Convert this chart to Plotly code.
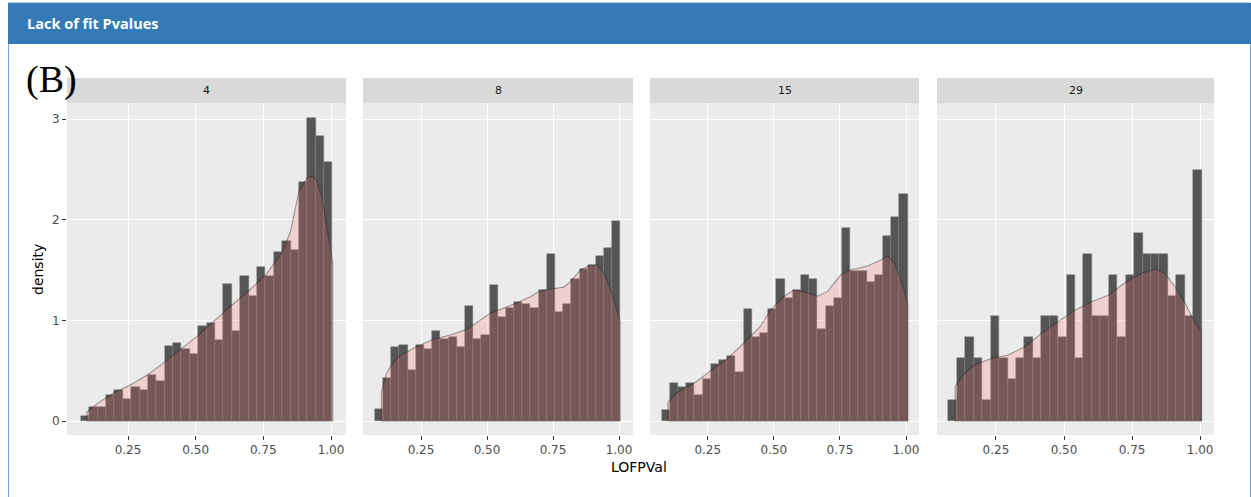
import plotly.graph_objects as go

W, H = 1251, 497

# ---------------- data ----------------
panel_labels = ["4", "8", "15", "29"]
x_tick_vals = [0.25, 0.50, 0.75, 1.00]
x_tick_text = ["0.25", "0.50", "0.75", "1.00"]
y_tick_vals = [0, 1, 2, 3]
y_tick_text = ["0", "1", "2", "3"]

bin_start = 0.0755
bin_width = 0.031

hist_4 = [0.053, 0.136, 0.136, 0.255, 0.311, 0.222, 0.341, 0.311, 0.454, 0.397,
          0.748, 0.775, 0.719, 0.662, 0.947, 0.977, 0.805, 1.358, 0.891, 1.440,
          1.238, 1.530, 1.440, 1.675, 1.790, 1.700, 2.370, 3.007, 2.834, 2.576]
hist_8 = [0.116, 0.424, 0.732, 0.752, 0.507, 0.752, 0.712, 0.897, 0.818, 0.838,
          0.732, 1.142, 0.818, 0.854, 1.348, 1.036, 1.126, 1.182, 1.162, 1.119,
          1.305, 1.656, 1.083, 1.162, 1.411, 1.510, 1.553, 1.636, 1.719, 1.983]
hist_15 = [0.109, 0.374, 0.341, 0.374, 0.262, 0.414, 0.570, 0.609, 0.646, 0.490,
           1.109, 0.838, 0.877, 1.109, 1.414, 1.225, 1.301, 1.454, 1.414, 0.917,
           1.146, 1.225, 1.917, 1.493, 1.493, 1.377, 1.454, 1.838, 2.030, 2.258]
hist_29 = [0.208, 0.623, 0.831, 0.623, 0.208, 1.039, 0.623, 0.415, 0.623, 0.831,
           0.623, 1.039, 1.039, 0.831, 1.454, 0.623, 1.662, 1.039, 1.039, 1.454,
           0.831, 1.454, 1.870, 1.662, 1.662, 1.662, 1.246, 1.454, 1.039, 2.493]

dens_x_4 = [0.098, 0.137, 0.199, 0.260, 0.323, 0.385, 0.446, 0.509, 0.571, 0.633,
            0.695, 0.758, 0.819, 0.850, 0.882, 0.913, 0.931, 0.947, 0.966, 0.984,
            0.999, 1.0065]
dens_y_4 = [0.09, 0.175, 0.28, 0.36, 0.46, 0.585, 0.72, 0.85, 1.0, 1.15,
            1.29, 1.45, 1.67, 1.88, 2.29, 2.42, 2.43, 2.39, 2.23, 1.93,
            1.68, 1.57]
dens_x_8 = [0.0996, 0.119, 0.138, 0.169, 0.233, 0.296, 0.360, 0.417, 0.448, 0.512,
            0.544, 0.601, 0.664, 0.702, 0.740, 0.791, 0.816, 0.854, 0.892, 0.918,
            0.943, 0.969, 0.988, 1.004]
dens_y_8 = [0.29, 0.47, 0.556, 0.646, 0.738, 0.81, 0.854, 0.904, 0.954, 1.07,
            1.10, 1.16, 1.235, 1.295, 1.308, 1.33, 1.384, 1.50, 1.55, 1.55,
            1.467, 1.30, 1.136, 1.0]
dens_x_15 = [0.0996, 0.138, 0.201, 0.265, 0.324, 0.385, 0.448, 0.487, 0.537, 0.575,
             0.613, 0.664, 0.702, 0.753, 0.791, 0.854, 0.905, 0.930, 0.956, 0.981,
             1.000, 1.0065]
dens_y_15 = [0.19, 0.29, 0.38, 0.507, 0.62, 0.77, 0.937, 1.10, 1.235, 1.30,
             1.285, 1.24, 1.285, 1.45, 1.50, 1.54, 1.60, 1.64, 1.566, 1.40,
             1.235, 1.15]
dens_x_29 = [0.100, 0.134, 0.171, 0.233, 0.294, 0.356, 0.417, 0.478, 0.540, 0.601,
             0.663, 0.724, 0.785, 0.835, 0.871, 0.908, 0.945, 0.976, 1.004]
dens_y_29 = [0.34, 0.47, 0.556, 0.62, 0.656, 0.738, 0.87, 0.987, 1.10, 1.185,
             1.25, 1.374, 1.467, 1.507, 1.467, 1.334, 1.169, 1.003, 0.887]

hists = [hist_4, hist_8, hist_15, hist_29]
dens_x = [dens_x_4, dens_x_8, dens_x_15, dens_x_29]
dens_y = [dens_y_4, dens_y_8, dens_y_15, dens_y_29]

# ---------------- layout helpers ----------------
def px(x):
    return x / W

def py(y):
    return 1 - y / H

panel_px = [(67, 346), (363, 633), (650, 919), (937, 1214)]
x_ranges = [[0.0246, 1.0554], [0.0303, 1.053], [0.0315, 1.049], [0.0334, 1.051]]
plot_top, plot_bot = 103, 435
strip_top = 78
y_range = [-0.139, 3.159]

fig = go.Figure()

for i in range(4):
    xa = "x" if i == 0 else f"x{i+1}"
    ya = "y" if i == 0 else f"y{i+1}"
    vals = hists[i]
    centers = [bin_start + bin_width * (k + 0.5) for k in range(len(vals))]
    fig.add_trace(go.Bar(
        x=centers, y=vals, width=bin_width, xaxis=xa, yaxis=ya,
        marker=dict(color="#555555", line=dict(color="#7c7c7c", width=0.5)),
        showlegend=False, hoverinfo="skip"))
    dx = dens_x[i]
    dy = dens_y[i]
    poly_x = [dx[0]] + dx + [dx[-1], dx[0]]
    poly_y = [0] + dy + [0, 0]
    fig.add_trace(go.Scatter(
        x=poly_x, y=poly_y, xaxis=xa, yaxis=ya, mode="lines",
        fill="toself", fillcolor="rgba(255,102,102,0.2)",
        line=dict(color="rgba(30,30,30,0.4)", width=1.1),
        showlegend=False, hoverinfo="skip"))

FONT = "DejaVu Sans, Liberation Sans, sans-serif"
tickfont = dict(family=FONT, size=12, color="#4d4d4d")

layout = dict(
    width=W, height=H,
    margin=dict(l=0, r=0, t=0, b=0),
    paper_bgcolor="white",
    plot_bgcolor="#ebebeb",
    bargap=0,
    barmode="overlay",
)
for i in range(4):
    xk = "xaxis" if i == 0 else f"xaxis{i+1}"
    yk = "yaxis" if i == 0 else f"yaxis{i+1}"
    x0, x1 = panel_px[i]
    layout[xk] = dict(
        domain=[px(x0), px(x1)], range=x_ranges[i],
        anchor="y" if i == 0 else f"y{i+1}",
        tickvals=x_tick_vals, ticktext=x_tick_text,
        ticks="outside", ticklen=4, tickwidth=1, tickcolor="#333333",
        showgrid=True, gridcolor="white", gridwidth=1.2,
        zeroline=False, showline=False, tickfont=tickfont, fixedrange=True)
    layout[yk] = dict(
        domain=[py(plot_bot), py(plot_top)], range=y_range,
        anchor="x" if i == 0 else f"x{i+1}",
        tickvals=y_tick_vals, ticktext=y_tick_text,
        ticks="outside" if i == 0 else "", ticklen=4, tickwidth=1, tickcolor="#333333",
        showticklabels=(i == 0),
        showgrid=True, gridcolor="white", gridwidth=1.2,
        zeroline=False, showline=False, tickfont=tickfont, fixedrange=True)

shapes = []
annotations = []

# box border
shapes.append(dict(type="rect", xref="paper", yref="paper",
                   x0=px(8.5), x1=px(1250.5), y0=py(520), y1=py(3),
                   line=dict(color="#6fa3d6", width=1), fillcolor="rgba(0,0,0,0)", layer="below"))
# header
shapes.append(dict(type="rect", xref="paper", yref="paper",
                   x0=px(8), x1=px(1251), y0=py(44), y1=py(3),
                   line=dict(width=0), fillcolor="#337ab7", layer="above"))
annotations.append(dict(text="<b>Lack of fit Pvalues</b>", xref="paper", yref="paper",
                        x=px(25), y=py(24), xanchor="left", yanchor="middle", showarrow=False,
                        font=dict(family="Open Sans, Lato, sans-serif", size=14.5, color="white")))

# strips
for i in range(4):
    x0, x1 = panel_px[i]
    shapes.append(dict(type="rect", xref="paper", yref="paper",
                       x0=px(x0), x1=px(x1), y0=py(plot_top), y1=py(strip_top),
                       line=dict(width=0), fillcolor="#d9d9d9", layer="below"))
    annotations.append(dict(text=panel_labels[i], xref="paper", yref="paper",
                            x=px((x0 + x1) / 2), y=py((strip_top + plot_top) / 2),
                            xanchor="center", yanchor="middle", showarrow=False,
                            font=dict(family=FONT, size=11, color="#1a1a1a")))

# axis titles
annotations.append(dict(text="density", xref="paper", yref="paper", x=px(38), y=py(270),
                        xanchor="center", yanchor="middle", textangle=-90, showarrow=False,
                        font=dict(family=FONT, size=14, color="black")))
annotations.append(dict(text="LOFPVal", xref="paper", yref="paper", x=px(639), y=py(467),
                        xanchor="center", yanchor="middle", showarrow=False,
                        font=dict(family=FONT, size=14, color="black")))
# panel tag
annotations.append(dict(text="(B)", xref="paper", yref="paper", x=px(24), y=py(79),
                        xanchor="left", yanchor="middle", showarrow=False,
                        font=dict(family="Liberation Serif, Times New Roman, serif", size=38, color="black")))

layout["shapes"] = shapes
layout["annotations"] = annotations
fig.update_layout(**layout)

fig.write_html("out.html", config={"displayModeBar": False},
               post_script="document.body.style.margin='0';document.body.style.overflow='hidden';")
